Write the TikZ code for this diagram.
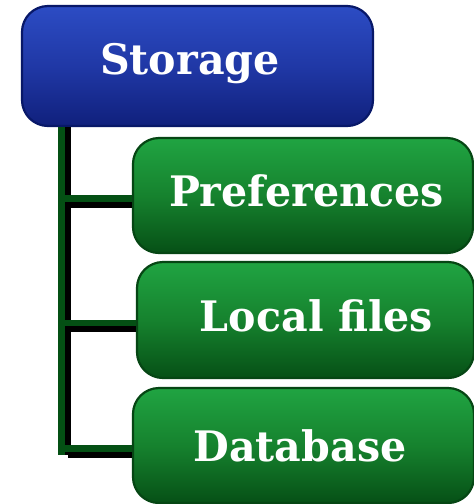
\documentclass[tikz,border=0pt]{standalone}
\usepackage{fontspec}
\newfontfamily\boxfont{DejaVu Serif}
\definecolor{bluetop}{RGB}{44,76,196}
\definecolor{bluemid}{RGB}{32,56,166}
\definecolor{bluebot}{RGB}{16,32,124}
\definecolor{blueedge}{RGB}{8,24,104}
\definecolor{greentop}{RGB}{32,164,66}
\definecolor{greenmid}{RGB}{22,130,46}
\definecolor{greenbot}{RGB}{6,80,22}
\definecolor{greenedge}{RGB}{6,70,20}
\definecolor{linegreen}{RGB}{4,80,20}
\tikzset{
  box/.style={rounded corners=26pt, line width=2.2pt, inner sep=0pt},
  rootbox/.style={box, draw=blueedge, top color=bluetop, bottom color=bluebot, middle color=bluemid},
  leafbox/.style={box, draw=greenedge, top color=greentop, bottom color=greenbot, middle color=greenmid},
  boxlabel/.style={anchor=base, text=white, inner sep=0pt,
    font=\boxfont\bfseries\fontsize{42}{48}\selectfont, xscale=0.98, transform shape},
  conn/.style={draw=linegreen, line width=6.5pt},
  connshadow/.style={draw=black, line width=6.5pt},
}
\begin{document}
\begin{tikzpicture}[x=1pt, y=-1pt]
  \useasboundingbox[fill=white] (0,0) rectangle (474,504);

  % boxes
  \node[rootbox, minimum width=351pt, minimum height=120pt] (storage) at (197.5,66) {};
  \node[leafbox, minimum width=340pt, minimum height=115pt] (pref) at (303,195.5) {};
  \node[leafbox, minimum width=337pt, minimum height=116pt] (local) at (305.5,320) {};
  \node[leafbox, minimum width=341pt, minimum height=115pt] (db) at (303.5,445.5) {};

  % labels
  \node[boxlabel] (storage-text) at (190,74) {Storage};
  \node[boxlabel] (pref-text) at (306.5,206) {Preferences};
  \node[boxlabel] (local-text) at (316.5,331) {Local files};
  \node[boxlabel] (db-text) at (300,461) {Database};

  % trunk of the tree
  \coordinate (trunk) at (61.5,126);
  \coordinate (trunkend) at (61.5,455);

  % black shadows first, green lines on top
  \draw[connshadow] ([shift={(6,0)}]trunk |- storage.south) -- ([shift={(6,0)}]trunkend);
  \foreach \b in {pref,local,db}
    \draw[connshadow] ([shift={(6,9)}]trunk |- \b.west) -- ([shift={(0,9)}]\b.west);
  \draw[conn] (trunk |- storage.south) -- (trunkend);
  \foreach \b in {pref,local,db}
    \draw[conn] ([shift={(0,3)}]trunk |- \b.west) -- ([shift={(0,3)}]\b.west);
\end{tikzpicture}
\end{document}
